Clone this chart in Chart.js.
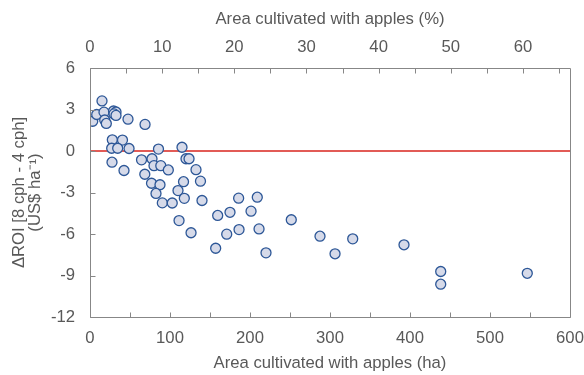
<!DOCTYPE html>
<html><head><meta charset="utf-8">
<script src="https://cdn.jsdelivr.net/npm/chart.js@4.4.1/dist/chart.umd.min.js"></script>
<style>html,body{margin:0;padding:0;background:#fff;}</style>
</head><body>
<canvas id="c" width="584" height="375"></canvas>
<script>
// Area cultivated with apples (ha)
const areaHa = [3.4, 8.4, 15, 17.5, 18.4, 20.4, 29.4, 32.5, 30, 32.5, 47.5, 68.8,
  27.9, 40.6, 27.1, 34.6, 48.8, 85.6, 115, 27.5, 42.5, 64.4, 77.5, 80, 88.5, 97.9,
  120, 123.8, 132.5, 68.5, 76.9, 87.5, 138.1, 116.9, 82.5, 110, 117.9, 90.4, 102.8,
  140, 185.8, 209.1, 159.6, 175, 201.3, 111.3, 126.3, 170.9, 186.3, 211.3, 251.6,
  157.1, 220, 287.5, 328.4, 306.3, 392.5, 438.4, 438.4, 546.6];
// ΔROI [8 cph - 4 cph] (US$ ha-1)
const deltaRoi = [2.15, 2.64, 3.62, 2.81, 2.24, 1.99, 2.89, 2.82, 2.68, 2.57, 2.30, 1.92,
  0.81, 0.79, 0.20, 0.20, 0.18, 0.14, 0.27, -0.81, -1.41, -0.64, -0.56, -1.06, -1.06, -1.37,
  -0.56, -0.56, -1.35, -1.68, -2.33, -2.44, -2.18, -2.22, -3.07, -2.86, -3.42, -3.75, -3.76,
  -3.58, -3.41, -3.34, -4.66, -4.43, -4.35, -5.03, -5.91, -6.01, -5.68, -5.63, -4.97,
  -7.03, -7.36, -6.16, -6.35, -7.43, -6.78, -8.71, -9.63, -8.84];
// axis ranges / ticks
const xRangeHa = [0, 600];
const xStepHa = 50, xLabelStepHa = 100;
const yRange = [-12, 6];
const yStep = 3;
const totalAreaHa = 902;            // 100 % reference for the top axis
const pctStep = 5, pctLabelStep = 10;
const zeroLineX = [0, 600];

const FONT = "'Liberation Sans', Arial, sans-serif";
const FS = 16.7;
const TXT = '#595959';
const AX = '#878787';

const points = areaHa.map((x, i) => ({x, y: deltaRoi[i]}));

const frameAndTicks = {
  id: 'frameAndTicks',
  afterDraw(chart) {
    const {ctx, scales} = chart;
    const sx = scales.x, sy = scales.y, s2 = scales.x2;
    const l = Math.round(sx.getPixelForValue(xRangeHa[0])) + 0.5;
    const r = Math.round(sx.getPixelForValue(xRangeHa[1])) + 0.5;
    const t = Math.round(sy.getPixelForValue(yRange[1])) + 0.5;
    const b = Math.round(sy.getPixelForValue(yRange[0])) + 0.5;
    ctx.save();
    ctx.strokeStyle = AX; ctx.lineWidth = 1;
    ctx.beginPath();
    ctx.rect(l, t, r - l, b - t);
    const L = 5;
    sx.ticks.forEach(k => { const p = Math.round(sx.getPixelForValue(k.value)) + 0.5; ctx.moveTo(p, b); ctx.lineTo(p, b - L); });
    s2.ticks.forEach(k => { const p = Math.round(s2.getPixelForValue(k.value)) + 0.5; ctx.moveTo(p, t); ctx.lineTo(p, t + L); });
    sy.ticks.forEach(k => { const p = Math.round(sy.getPixelForValue(k.value)) + 0.5; ctx.moveTo(l, p); ctx.lineTo(l + L, p); });
    ctx.stroke();
    ctx.restore();
  }
};

const noHPad = s => { s.paddingLeft = 0; s.paddingRight = 0; };
const GRID = {display: false, drawTicks: false, tickLength: 0};
const NOBORDER = {display: false};

new Chart(document.getElementById('c'), {
  type: 'scatter',
  data: {
    datasets: [
      {
        data: points, xAxisID: 'x', yAxisID: 'y',
        backgroundColor: '#d6dae9', borderColor: '#2d5797', borderWidth: 1.3,
        pointRadius: 5, pointHoverRadius: 5
      },
      {
        type: 'line', data: zeroLineX.map(x => ({x, y: 0})), xAxisID: 'x', yAxisID: 'y',
        borderColor: '#d9241e', borderWidth: 1.6, pointRadius: 0, fill: false
      }
    ]
  },
  options: {
    responsive: false, animation: false, devicePixelRatio: 1,
    layout: {padding: {left: 0, right: 14, top: 0, bottom: 0}},
    plugins: {legend: {display: false}, tooltip: {enabled: false}},
    scales: {
      x: {
        type: 'linear', position: 'bottom', min: xRangeHa[0], max: xRangeHa[1],
        grid: GRID, border: NOBORDER,
        ticks: {stepSize: xStepHa, padding: 11.7, color: TXT, font: {family: FONT, size: FS},
          maxRotation: 0, autoSkip: false,
          callback: v => (v % xLabelStepHa === 0 ? String(v) : '')},
        title: {display: true, text: 'Area cultivated with apples (ha)', color: TXT,
          font: {family: FONT, size: FS}, padding: {top: 0, bottom: 1.5}},
        afterFit: s => { s.height = 58; noHPad(s); }
      },
      x2: {
        type: 'linear', position: 'top', min: 0, max: xRangeHa[1] / totalAreaHa * 100,
        grid: GRID, border: NOBORDER,
        ticks: {stepSize: pctStep, includeBounds: false, padding: 10.5, color: TXT,
          font: {family: FONT, size: FS}, maxRotation: 0, autoSkip: false,
          callback: v => (Math.abs(v % pctLabelStep) < 1e-9 ? String(v) : '')},
        title: {display: true, text: 'Area cultivated with apples (%)', color: TXT,
          font: {family: FONT, size: FS}, padding: {top: 9.5, bottom: 0}},
        afterFit: s => { s.height = 68; noHPad(s); }
      },
      y: {
        type: 'linear', position: 'left', min: yRange[0], max: yRange[1],
        grid: GRID, border: NOBORDER,
        ticks: {stepSize: yStep, padding: 15, color: TXT, font: {family: FONT, size: FS}},
        title: {display: true, text: ['ΔROI [8 cph - 4 cph]', '(US$ ha⁻¹)'], color: TXT,
          font: {family: FONT, size: FS, lineHeight: 0.92}, padding: {top: 12, bottom: 0}},
        afterFit: s => { s.width = 90; s.paddingTop = 0; s.paddingBottom = 0; }
      }
    }
  },
  plugins: [frameAndTicks]
});
</script>
</body></html>
